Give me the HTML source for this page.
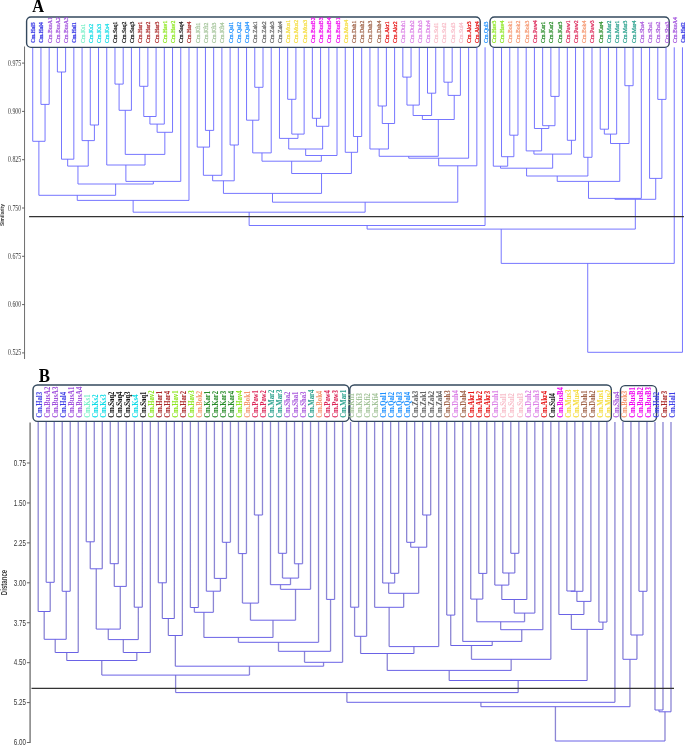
<!DOCTYPE html>
<html><head><meta charset="utf-8"><title>Dendrogram</title><style>
html,body{margin:0;padding:0;background:#fff;width:685px;height:747px;overflow:hidden}
svg{display:block;will-change:transform}
text{font-family:"Liberation Serif",serif}
</style></head><body>
<svg width="685" height="747" viewBox="0 0 685 747">
<rect width="685" height="747" fill="#fff"/>
<path d="M57.39 47.3V72M65.62 47.3V72M40.94 47.3V104.4M49.17 47.3V104.4M32.72 47.3V141.3M45.06 104.4V141.3M90.29 47.3V125M98.52 47.3V125M82.07 47.3V140.6M94.4 125V140.6M114.97 47.3V84.1M123.19 47.3V84.1M119.08 84.1V110.3M131.42 47.3V110.3M139.64 47.3V86.3M147.86 47.3V86.3M143.75 86.3V116.5M156.09 47.3V116.5M149.92 116.5V124.1M164.31 47.3V124.1M157.12 124.1V132.3M172.54 47.3V132.3M125.25 110.3V154.4M164.83 132.3V154.4M106.74 47.3V165M145.04 154.4V165M61.51 72V159.2M73.84 47.3V159.2M67.67 159.2V166.1M88.24 140.6V166.1M125.89 165V181.4M180.76 47.3V181.4M77.96 166.1V184M153.33 181.4V184M38.89 141.3V195.3M115.64 184V195.3M77.26 195.3V200.4M188.99 47.3V200.4M205.44 47.3V130.4M213.66 47.3V130.4M197.21 47.3V147.1M209.55 130.4V147.1M203.38 147.1V175.3M221.89 47.3V175.3M230.11 47.3V145M238.34 47.3V145M212.63 175.3V180.8M234.22 145V180.8M254.78 47.3V87.3M263.01 47.3V87.3M246.56 47.3V120.2M258.9 87.3V120.2M252.73 120.2V152.9M271.23 47.3V152.9M287.68 47.3V99.3M295.91 47.3V99.3M291.79 99.3V134.1M304.13 47.3V134.1M279.46 47.3V138.4M297.96 134.1V138.4M312.36 47.3V118.3M320.58 47.3V118.3M316.47 118.3V126.3M328.81 47.3V126.3M288.71 138.4V149M322.64 126.3V149M305.67 149V155.5M337.03 47.3V155.5M261.98 152.9V161.2M321.35 155.5V161.2M353.48 47.3V136.5M361.7 47.3V136.5M345.25 47.3V152.3M357.59 136.5V152.3M291.67 161.2V173.5M351.42 152.3V173.5M223.43 180.8V193.4M321.54 173.5V193.4M378.15 47.3V106M386.38 47.3V106M382.27 106V123.5M394.6 47.3V123.5M369.93 47.3V149M388.43 123.5V149M402.83 47.3V77.1M411.05 47.3V77.1M406.94 77.1V105.1M419.28 47.3V105.1M427.5 47.3V93.2M435.73 47.3V93.2M413.11 105.1V115.5M431.61 93.2V115.5M443.95 47.3V82.2M452.17 47.3V82.2M448.06 82.2V95.4M460.4 47.3V95.4M422.36 115.5V119.5M454.23 95.4V119.5M379.18 149V156.3M438.3 119.5V156.3M408.74 156.3V158.2M468.62 47.3V158.2M438.68 158.2V165.8M476.85 47.3V165.8M272.49 193.4V202.2M457.76 165.8V202.2M133.13 200.4V212.2M365.13 202.2V212.2M249.13 212.2V225.5M485.07 47.3V225.5M509.75 47.3V135.2M517.97 47.3V135.2M501.52 47.3V156.7M513.86 135.2V156.7M493.3 47.3V166.2M507.69 156.7V166.2M550.87 47.3V96.4M559.09 47.3V96.4M542.65 47.3V125.7M554.98 96.4V125.7M534.42 47.3V128.5M548.81 125.7V128.5M526.2 47.3V150.9M541.62 128.5V150.9M567.32 47.3V140.3M575.54 47.3V140.3M533.91 150.9V154.1M571.43 140.3V154.1M500.49 166.2V168.2M552.67 154.1V168.2M583.77 47.3V157.3M591.99 47.3V157.3M526.58 168.2V176M587.88 157.3V176M600.22 47.3V129.2M608.44 47.3V129.2M604.33 129.2V134.1M616.67 47.3V134.1M624.89 47.3V85.7M633.12 47.3V85.7M610.5 134.1V143.5M629 85.7V143.5M557.23 176V181.4M619.75 143.5V181.4M588.49 181.4V198.4M641.34 47.3V198.4M657.79 47.3V99.4M666.01 47.3V99.4M649.57 47.3V178.4M661.9 99.4V178.4M614.92 198.4V199.3M655.73 178.4V199.3M367.1 225.5V229.1M635.32 199.3V229.1M501.21 229.1V263.4M674.24 47.3V263.4M587.73 263.4V352.3M682.46 47.3V352.3M57.39 72H65.62M40.94 104.4H49.17M32.72 141.3H45.06M90.29 125H98.52M82.07 140.6H94.4M114.97 84.1H123.19M119.08 110.3H131.42M139.64 86.3H147.86M143.75 116.5H156.09M149.92 124.1H164.31M157.12 132.3H172.54M125.25 154.4H164.83M106.74 165H145.04M61.51 159.2H73.84M67.67 166.1H88.24M125.89 181.4H180.76M77.96 184H153.33M38.89 195.3H115.64M77.26 200.4H188.99M205.44 130.4H213.66M197.21 147.1H209.55M203.38 175.3H221.89M230.11 145H238.34M212.63 180.8H234.22M254.78 87.3H263.01M246.56 120.2H258.9M252.73 152.9H271.23M287.68 99.3H295.91M291.79 134.1H304.13M279.46 138.4H297.96M312.36 118.3H320.58M316.47 126.3H328.81M288.71 149H322.64M305.67 155.5H337.03M261.98 161.2H321.35M353.48 136.5H361.7M345.25 152.3H357.59M291.67 173.5H351.42M223.43 193.4H321.54M378.15 106H386.38M382.27 123.5H394.6M369.93 149H388.43M402.83 77.1H411.05M406.94 105.1H419.28M427.5 93.2H435.73M413.11 115.5H431.61M443.95 82.2H452.17M448.06 95.4H460.4M422.36 119.5H454.23M379.18 156.3H438.3M408.74 158.2H468.62M438.68 165.8H476.85M272.49 202.2H457.76M133.13 212.2H365.13M249.13 225.5H485.07M509.75 135.2H517.97M501.52 156.7H513.86M493.3 166.2H507.69M550.87 96.4H559.09M542.65 125.7H554.98M534.42 128.5H548.81M526.2 150.9H541.62M567.32 140.3H575.54M533.91 154.1H571.43M500.49 168.2H552.67M583.77 157.3H591.99M526.58 176H587.88M600.22 129.2H608.44M604.33 134.1H616.67M624.89 85.7H633.12M610.5 143.5H629M557.23 181.4H619.75M588.49 198.4H641.34M657.79 99.4H666.01M649.57 178.4H661.9M614.92 199.3H655.73M367.1 229.1H635.32M501.21 263.4H674.24M587.73 352.3H682.46" stroke="#6666ff" stroke-width="0.9" fill="none"/>
<path d="M24.55 46.5V359" stroke="#6e6e6e" stroke-width="1" fill="none"/>
<text transform="translate(21.2 65.6) scale(0.815 1)" font-size="7.2" text-anchor="end" fill="#333">0.975</text>
<text transform="translate(21.2 113.9) scale(0.815 1)" font-size="7.2" text-anchor="end" fill="#333">0.900</text>
<text transform="translate(21.2 162.2) scale(0.815 1)" font-size="7.2" text-anchor="end" fill="#333">0.825</text>
<text transform="translate(21.2 210.5) scale(0.815 1)" font-size="7.2" text-anchor="end" fill="#333">0.750</text>
<text transform="translate(21.2 258.8) scale(0.815 1)" font-size="7.2" text-anchor="end" fill="#333">0.675</text>
<text transform="translate(21.2 307.1) scale(0.815 1)" font-size="7.2" text-anchor="end" fill="#333">0.600</text>
<text transform="translate(21.2 355.4) scale(0.815 1)" font-size="7.2" text-anchor="end" fill="#333">0.525</text>
<path d="M22 63.1H24.5M22 111.4H24.5M22 159.7H24.5M22 208H24.5M22 256.3H24.5M22 304.6H24.5M22 352.9H24.5" stroke="#555" stroke-width="0.9" fill="none"/>
<text transform="translate(4.4 215) rotate(-90) scale(0.79 1)" font-size="6.2" font-weight="bold" text-anchor="middle" fill="#3a3a3a" style="font-family:'Liberation Sans',sans-serif">Similarity</text>
<rect x="26.6" y="16.95" width="453.6" height="30.4" rx="4.4" fill="none" stroke="#34495e" stroke-width="1.4"/>
<rect x="490" y="16.95" width="179.2" height="30.4" rx="4.4" fill="none" stroke="#34495e" stroke-width="1.4"/>
<text transform="translate(32.3 12.2) scale(0.89 1)" font-size="18.3" font-weight="bold" fill="#000">A</text>
<text transform="translate(35.22 42.9) rotate(-90) scale(0.9 1)" font-size="5.9" font-weight="bold" fill="#3c3ce6" stroke="#3c3ce6" stroke-width="0.22">Cm.Hal5</text>
<text transform="translate(43.44 42.9) rotate(-90) scale(0.9 1)" font-size="5.9" font-weight="bold" fill="#3c3ce6" stroke="#3c3ce6" stroke-width="0.22">Cm.Hal4</text>
<text transform="translate(51.67 42.9) rotate(-90) scale(0.98 1)" font-size="5.9" font-weight="normal" fill="#a050dc" stroke="#a050dc" stroke-width="0.22">Cm.BusA1</text>
<text transform="translate(59.89 42.9) rotate(-90) scale(0.98 1)" font-size="5.9" font-weight="normal" fill="#a050dc" stroke="#a050dc" stroke-width="0.22">Cm.BusA2</text>
<text transform="translate(68.12 42.9) rotate(-90) scale(0.98 1)" font-size="5.9" font-weight="normal" fill="#a050dc" stroke="#a050dc" stroke-width="0.22">Cm.BusA3</text>
<text transform="translate(76.34 42.9) rotate(-90) scale(0.9 1)" font-size="5.9" font-weight="bold" fill="#3c3ce6" stroke="#3c3ce6" stroke-width="0.22">Cm.Hal1</text>
<text transform="translate(84.57 42.9) rotate(-90) scale(0.98 1)" font-size="5.9" font-weight="normal" fill="#78f0c8" stroke="#78f0c8" stroke-width="0.22">Cm.Ks1</text>
<text transform="translate(92.79 42.9) rotate(-90) scale(0.98 1)" font-size="5.9" font-weight="normal" fill="#10dce6" stroke="#10dce6" stroke-width="0.22">Cm.Ks2</text>
<text transform="translate(101.02 42.9) rotate(-90) scale(0.98 1)" font-size="5.9" font-weight="normal" fill="#10dce6" stroke="#10dce6" stroke-width="0.22">Cm.Ks3</text>
<text transform="translate(109.24 42.9) rotate(-90) scale(0.98 1)" font-size="5.9" font-weight="normal" fill="#10dce6" stroke="#10dce6" stroke-width="0.22">Cm.Ks4</text>
<text transform="translate(117.47 42.9) rotate(-90) scale(0.98 1)" font-size="5.9" font-weight="normal" fill="#141414" stroke="#141414" stroke-width="0.22">Cm.Saq1</text>
<text transform="translate(125.69 42.9) rotate(-90) scale(0.98 1)" font-size="5.9" font-weight="normal" fill="#141414" stroke="#141414" stroke-width="0.22">Cm.Saq2</text>
<text transform="translate(133.92 42.9) rotate(-90) scale(0.98 1)" font-size="5.9" font-weight="normal" fill="#141414" stroke="#141414" stroke-width="0.22">Cm.Saq3</text>
<text transform="translate(142.14 42.9) rotate(-90) scale(0.98 1)" font-size="5.9" font-weight="normal" fill="#aa2828" stroke="#aa2828" stroke-width="0.22">Cm.Har1</text>
<text transform="translate(150.36 42.9) rotate(-90) scale(0.98 1)" font-size="5.9" font-weight="normal" fill="#aa2828" stroke="#aa2828" stroke-width="0.22">Cm.Har2</text>
<text transform="translate(158.59 42.9) rotate(-90) scale(0.98 1)" font-size="5.9" font-weight="normal" fill="#aa2828" stroke="#aa2828" stroke-width="0.22">Cm.Har3</text>
<text transform="translate(166.81 42.9) rotate(-90) scale(0.98 1)" font-size="5.9" font-weight="normal" fill="#8ce61e" stroke="#8ce61e" stroke-width="0.22">Cm.Hav1</text>
<text transform="translate(175.04 42.9) rotate(-90) scale(0.98 1)" font-size="5.9" font-weight="normal" fill="#8ce61e" stroke="#8ce61e" stroke-width="0.22">Cm.Hav2</text>
<text transform="translate(183.26 42.9) rotate(-90) scale(0.98 1)" font-size="5.9" font-weight="normal" fill="#141414" stroke="#141414" stroke-width="0.22">Cm.Saq4</text>
<text transform="translate(191.49 42.9) rotate(-90) scale(0.98 1)" font-size="5.9" font-weight="normal" fill="#aa2828" stroke="#aa2828" stroke-width="0.22">Cm.Har4</text>
<text transform="translate(199.71 42.9) rotate(-90) scale(0.98 1)" font-size="5.9" font-weight="normal" fill="#a4c49a" stroke="#a4c49a" stroke-width="0.22">Cm.Kfi1</text>
<text transform="translate(207.94 42.9) rotate(-90) scale(0.98 1)" font-size="5.9" font-weight="normal" fill="#a4c49a" stroke="#a4c49a" stroke-width="0.22">Cm.Kfi2</text>
<text transform="translate(216.16 42.9) rotate(-90) scale(0.98 1)" font-size="5.9" font-weight="normal" fill="#a4c49a" stroke="#a4c49a" stroke-width="0.22">Cm.Kfi3</text>
<text transform="translate(224.39 42.9) rotate(-90) scale(0.98 1)" font-size="5.9" font-weight="normal" fill="#a4c49a" stroke="#a4c49a" stroke-width="0.22">Cm.Kfi4</text>
<text transform="translate(232.61 42.9) rotate(-90) scale(0.98 1)" font-size="5.9" font-weight="normal" fill="#1e90ff" stroke="#1e90ff" stroke-width="0.22">Cm.Qal1</text>
<text transform="translate(240.84 42.9) rotate(-90) scale(0.98 1)" font-size="5.9" font-weight="normal" fill="#1e90ff" stroke="#1e90ff" stroke-width="0.22">Cm.Qal2</text>
<text transform="translate(249.06 42.9) rotate(-90) scale(0.98 1)" font-size="5.9" font-weight="normal" fill="#1e90ff" stroke="#1e90ff" stroke-width="0.22">Cm.Qal4</text>
<text transform="translate(257.28 42.9) rotate(-90) scale(0.98 1)" font-size="5.9" font-weight="normal" fill="#646464" stroke="#646464" stroke-width="0.22">Cm.Zak1</text>
<text transform="translate(265.51 42.9) rotate(-90) scale(0.98 1)" font-size="5.9" font-weight="normal" fill="#646464" stroke="#646464" stroke-width="0.22">Cm.Zak2</text>
<text transform="translate(273.73 42.9) rotate(-90) scale(0.98 1)" font-size="5.9" font-weight="normal" fill="#646464" stroke="#646464" stroke-width="0.22">Cm.Zak3</text>
<text transform="translate(281.96 42.9) rotate(-90) scale(0.98 1)" font-size="5.9" font-weight="normal" fill="#646464" stroke="#646464" stroke-width="0.22">Cm.Zak4</text>
<text transform="translate(290.18 42.9) rotate(-90) scale(0.98 1)" font-size="5.9" font-weight="normal" fill="#f5dc3c" stroke="#f5dc3c" stroke-width="0.22">Cm.Mus1</text>
<text transform="translate(298.41 42.9) rotate(-90) scale(0.98 1)" font-size="5.9" font-weight="normal" fill="#f5dc3c" stroke="#f5dc3c" stroke-width="0.22">Cm.Mus2</text>
<text transform="translate(306.63 42.9) rotate(-90) scale(0.98 1)" font-size="5.9" font-weight="normal" fill="#f5dc3c" stroke="#f5dc3c" stroke-width="0.22">Cm.Mus3</text>
<text transform="translate(314.86 42.9) rotate(-90) scale(0.98 1)" font-size="5.9" font-weight="normal" fill="#f000f0" stroke="#f000f0" stroke-width="0.22">Cm.BusB2</text>
<text transform="translate(323.08 42.9) rotate(-90) scale(0.98 1)" font-size="5.9" font-weight="normal" fill="#f000f0" stroke="#f000f0" stroke-width="0.22">Cm.BusB3</text>
<text transform="translate(331.31 42.9) rotate(-90) scale(0.98 1)" font-size="5.9" font-weight="normal" fill="#f000f0" stroke="#f000f0" stroke-width="0.22">Cm.BusB4</text>
<text transform="translate(339.53 42.9) rotate(-90) scale(0.98 1)" font-size="5.9" font-weight="normal" fill="#f000f0" stroke="#f000f0" stroke-width="0.22">Cm.BusB1</text>
<text transform="translate(347.75 42.9) rotate(-90) scale(0.98 1)" font-size="5.9" font-weight="normal" fill="#f5dc3c" stroke="#f5dc3c" stroke-width="0.22">Cm.Mus4</text>
<text transform="translate(355.98 42.9) rotate(-90) scale(0.98 1)" font-size="5.9" font-weight="normal" fill="#a0644a" stroke="#a0644a" stroke-width="0.22">Cm.Dah1</text>
<text transform="translate(364.2 42.9) rotate(-90) scale(0.98 1)" font-size="5.9" font-weight="normal" fill="#a0644a" stroke="#a0644a" stroke-width="0.22">Cm.Dah2</text>
<text transform="translate(372.43 42.9) rotate(-90) scale(0.98 1)" font-size="5.9" font-weight="normal" fill="#a0644a" stroke="#a0644a" stroke-width="0.22">Cm.Dah3</text>
<text transform="translate(380.65 42.9) rotate(-90) scale(0.98 1)" font-size="5.9" font-weight="normal" fill="#a0644a" stroke="#a0644a" stroke-width="0.22">Cm.Dah4</text>
<text transform="translate(388.88 42.9) rotate(-90) scale(0.98 1)" font-size="5.9" font-weight="normal" fill="#e61414" stroke="#e61414" stroke-width="0.22">Cm.Akr1</text>
<text transform="translate(397.1 42.9) rotate(-90) scale(0.98 1)" font-size="5.9" font-weight="normal" fill="#e61414" stroke="#e61414" stroke-width="0.22">Cm.Akr2</text>
<text transform="translate(405.33 42.9) rotate(-90) scale(0.98 1)" font-size="5.9" font-weight="normal" fill="#dc82e6" stroke="#dc82e6" stroke-width="0.22">Cm.Duh1</text>
<text transform="translate(413.55 42.9) rotate(-90) scale(0.98 1)" font-size="5.9" font-weight="normal" fill="#dc82e6" stroke="#dc82e6" stroke-width="0.22">Cm.Duh2</text>
<text transform="translate(421.78 42.9) rotate(-90) scale(0.98 1)" font-size="5.9" font-weight="normal" fill="#dc82e6" stroke="#dc82e6" stroke-width="0.22">Cm.Duh3</text>
<text transform="translate(430 42.9) rotate(-90) scale(0.98 1)" font-size="5.9" font-weight="normal" fill="#dc82e6" stroke="#dc82e6" stroke-width="0.22">Cm.Duh4</text>
<text transform="translate(438.23 42.9) rotate(-90) scale(0.98 1)" font-size="5.9" font-weight="normal" fill="#f8bcc8" stroke="#f8bcc8" stroke-width="0.22">Cm.Sul1</text>
<text transform="translate(446.45 42.9) rotate(-90) scale(0.98 1)" font-size="5.9" font-weight="normal" fill="#f8bcc8" stroke="#f8bcc8" stroke-width="0.22">Cm.Sul2</text>
<text transform="translate(454.67 42.9) rotate(-90) scale(0.98 1)" font-size="5.9" font-weight="normal" fill="#f8bcc8" stroke="#f8bcc8" stroke-width="0.22">Cm.Sul3</text>
<text transform="translate(462.9 42.9) rotate(-90) scale(0.98 1)" font-size="5.9" font-weight="normal" fill="#f8bcc8" stroke="#f8bcc8" stroke-width="0.22">Cm.Sul4</text>
<text transform="translate(471.12 42.9) rotate(-90) scale(0.98 1)" font-size="5.9" font-weight="normal" fill="#e61414" stroke="#e61414" stroke-width="0.22">Cm.Akr3</text>
<text transform="translate(479.35 42.9) rotate(-90) scale(0.98 1)" font-size="5.9" font-weight="normal" fill="#e61414" stroke="#e61414" stroke-width="0.22">Cm.Akr4</text>
<text transform="translate(487.57 42.9) rotate(-90) scale(0.98 1)" font-size="5.9" font-weight="normal" fill="#1e90ff" stroke="#1e90ff" stroke-width="0.22">Cm.Qul3</text>
<text transform="translate(495.8 42.9) rotate(-90) scale(0.98 1)" font-size="5.9" font-weight="normal" fill="#8ce61e" stroke="#8ce61e" stroke-width="0.22">Cm.Hav3</text>
<text transform="translate(504.02 42.9) rotate(-90) scale(0.98 1)" font-size="5.9" font-weight="normal" fill="#8ce61e" stroke="#8ce61e" stroke-width="0.22">Cm.Hav4</text>
<text transform="translate(512.25 42.9) rotate(-90) scale(0.98 1)" font-size="5.9" font-weight="normal" fill="#f5966e" stroke="#f5966e" stroke-width="0.22">Cm.Bok1</text>
<text transform="translate(520.47 42.9) rotate(-90) scale(0.98 1)" font-size="5.9" font-weight="normal" fill="#f5966e" stroke="#f5966e" stroke-width="0.22">Cm.Bok2</text>
<text transform="translate(528.7 42.9) rotate(-90) scale(0.98 1)" font-size="5.9" font-weight="normal" fill="#f5966e" stroke="#f5966e" stroke-width="0.22">Cm.Bok3</text>
<text transform="translate(536.92 42.9) rotate(-90) scale(0.98 1)" font-size="5.9" font-weight="normal" fill="#dc285a" stroke="#dc285a" stroke-width="0.22">Cm.Paw4</text>
<text transform="translate(545.15 42.9) rotate(-90) scale(0.98 1)" font-size="5.9" font-weight="normal" fill="#288c28" stroke="#288c28" stroke-width="0.22">Cm.Kar1</text>
<text transform="translate(553.37 42.9) rotate(-90) scale(0.98 1)" font-size="5.9" font-weight="normal" fill="#288c28" stroke="#288c28" stroke-width="0.22">Cm.Kar2</text>
<text transform="translate(561.59 42.9) rotate(-90) scale(0.98 1)" font-size="5.9" font-weight="normal" fill="#288c28" stroke="#288c28" stroke-width="0.22">Cm.Kar3</text>
<text transform="translate(569.82 42.9) rotate(-90) scale(0.98 1)" font-size="5.9" font-weight="normal" fill="#dc285a" stroke="#dc285a" stroke-width="0.22">Cm.Paw1</text>
<text transform="translate(578.04 42.9) rotate(-90) scale(0.98 1)" font-size="5.9" font-weight="normal" fill="#dc285a" stroke="#dc285a" stroke-width="0.22">Cm.Paw2</text>
<text transform="translate(586.27 42.9) rotate(-90) scale(0.98 1)" font-size="5.9" font-weight="normal" fill="#f5966e" stroke="#f5966e" stroke-width="0.22">Cm.Bok4</text>
<text transform="translate(594.49 42.9) rotate(-90) scale(0.98 1)" font-size="5.9" font-weight="normal" fill="#dc285a" stroke="#dc285a" stroke-width="0.22">Cm.Paw3</text>
<text transform="translate(602.72 42.9) rotate(-90) scale(0.98 1)" font-size="5.9" font-weight="normal" fill="#288c28" stroke="#288c28" stroke-width="0.22">Cm.Kar4</text>
<text transform="translate(610.94 42.9) rotate(-90) scale(0.98 1)" font-size="5.9" font-weight="normal" fill="#28a08c" stroke="#28a08c" stroke-width="0.22">Cm.Mar2</text>
<text transform="translate(619.17 42.9) rotate(-90) scale(0.98 1)" font-size="5.9" font-weight="normal" fill="#28a08c" stroke="#28a08c" stroke-width="0.22">Cm.Mar1</text>
<text transform="translate(627.39 42.9) rotate(-90) scale(0.98 1)" font-size="5.9" font-weight="normal" fill="#28a08c" stroke="#28a08c" stroke-width="0.22">Cm.Mar3</text>
<text transform="translate(635.62 42.9) rotate(-90) scale(0.98 1)" font-size="5.9" font-weight="normal" fill="#28a08c" stroke="#28a08c" stroke-width="0.22">Cm.Mar4</text>
<text transform="translate(643.84 42.9) rotate(-90) scale(0.98 1)" font-size="5.9" font-weight="normal" fill="#aa5adc" stroke="#aa5adc" stroke-width="0.22">Cm.Sha4</text>
<text transform="translate(652.07 42.9) rotate(-90) scale(0.98 1)" font-size="5.9" font-weight="normal" fill="#aa5adc" stroke="#aa5adc" stroke-width="0.22">Cm.Sha1</text>
<text transform="translate(660.29 42.9) rotate(-90) scale(0.98 1)" font-size="5.9" font-weight="normal" fill="#aa5adc" stroke="#aa5adc" stroke-width="0.22">Cm.Sha2</text>
<text transform="translate(668.51 42.9) rotate(-90) scale(0.98 1)" font-size="5.9" font-weight="normal" fill="#aa5adc" stroke="#aa5adc" stroke-width="0.22">Cm.Sha3</text>
<text transform="translate(676.74 42.9) rotate(-90) scale(0.98 1)" font-size="5.9" font-weight="normal" fill="#a050dc" stroke="#a050dc" stroke-width="0.22">Cm.BusA4</text>
<text transform="translate(684.96 42.9) rotate(-90) scale(0.9 1)" font-size="5.9" font-weight="bold" fill="#3c3ce6" stroke="#3c3ce6" stroke-width="0.22">Cm.Hal2</text>
<path d="M29.1 216.5H683.9" stroke="#333" stroke-width="1.25"/>
<path d="M46.2 422V582.3M54.21 422V582.3M62.22 422V591.3M70.23 422V591.3M86.25 422V541.8M94.26 422V541.8M90.26 541.8V568.8M102.27 422V568.8M110.28 422V563.7M118.29 422V563.7M114.29 563.7V586.4M126.3 422V586.4M38.19 422V611.5M50.21 582.3V611.5M44.2 611.5V639.3M66.23 591.3V639.3M55.21 639.3V652.5M78.24 422V652.5M96.26 568.8V629.1M120.29 586.4V629.1M134.31 422V607.2M142.32 422V607.2M108.28 629.1V639.6M138.32 607.2V639.6M123.3 639.6V652.5M150.33 422V652.5M66.73 652.5V660.5M136.82 652.5V660.5M158.34 422V582.8M166.35 422V582.8M162.35 582.8V618.5M174.36 422V618.5M168.36 618.5V635.5M182.37 422V635.5M190.38 422V607.5M198.39 422V607.5M222.42 422V542.3M230.43 422V542.3M214.41 422V578.4M226.43 542.3V578.4M206.4 422V591.2M220.42 578.4V591.2M194.39 607.5V612.3M213.41 591.2V612.3M238.44 422V553.6M246.46 422V553.6M254.47 422V515M262.48 422V515M242.45 553.6V603.1M258.47 515V603.1M278.5 422V553.3M286.51 422V553.3M294.52 422V563.8M302.53 422V563.8M282.5 553.3V578.1M298.52 563.8V578.1M270.49 422V584.7M290.51 578.1V584.7M280.5 584.7V589.3M310.54 422V589.3M250.46 603.1V620.2M295.52 589.3V620.2M203.9 612.3V637.4M272.99 620.2V637.4M238.44 637.4V642.3M318.55 422V642.3M326.56 422V599.4M334.57 422V599.4M278.5 642.3V651.3M330.56 599.4V651.3M304.53 651.3V662.3M342.58 422V662.3M175.36 635.5V666.2M323.55 662.3V666.2M101.77 660.5V675.1M249.46 666.2V675.1M350.59 422V607.2M358.6 422V607.2M354.59 607.2V636.3M366.61 422V636.3M390.64 422V573.3M398.65 422V573.3M382.63 422V583M394.64 573.3V583M406.66 422V542.3M414.67 422V542.3M422.68 422V515M430.69 422V515M410.66 542.3V547.2M426.68 515V547.2M388.64 583V593.3M418.67 547.2V593.3M374.62 422V607.3M403.66 593.3V607.3M389.14 607.3V646.6M438.7 422V646.6M360.6 636.3V653.5M413.92 646.6V653.5M446.71 422V615.1M454.72 422V615.1M478.75 422V573.4M486.76 422V573.4M470.74 422V599.1M482.76 573.4V599.1M510.79 422V553.3M518.8 422V553.3M502.78 422V573M514.8 553.3V573M494.77 422V585.1M508.79 573V585.1M501.78 585.1V599.5M526.81 422V599.5M514.3 599.5V613.1M534.82 422V613.1M476.75 599.1V621.8M524.56 613.1V621.8M500.65 621.8V629.7M542.83 422V629.7M462.73 422V641.4M521.74 629.7V641.4M450.72 615.1V645.5M492.24 641.4V645.5M471.48 645.5V659.3M550.84 422V659.3M387.26 653.5V670.4M511.16 659.3V670.4M566.86 422V591M574.87 422V591M570.87 591V591.3M582.88 422V591.3M576.88 591.3V601.4M590.89 422V601.4M558.85 422V614.5M583.88 601.4V614.5M598.9 422V622.1M606.91 422V622.1M571.37 614.5V629.4M602.91 622.1V629.4M449.21 670.4V680.5M587.14 629.4V680.5M175.61 675.1V692.6M518.17 680.5V692.6M346.89 692.6V702.3M614.92 422V702.3M638.95 422V591.3M646.97 422V591.3M630.94 422V635M642.96 591.3V635M622.93 422V659.3M636.95 635V659.3M480.91 702.3V706.7M629.94 659.3V706.7M654.98 422V710M662.99 422V710M658.98 710V711.8M671 422V711.8M555.43 706.7V741M664.99 711.8V741" stroke="#8c86d4" stroke-width="1.3" fill="none"/>
<path d="M46.2 582.3H54.21M62.22 591.3H70.23M86.25 541.8H94.26M90.26 568.8H102.27M110.28 563.7H118.29M114.29 586.4H126.3M38.19 611.5H50.21M44.2 639.3H66.23M55.21 652.5H78.24M96.26 629.1H120.29M134.31 607.2H142.32M108.28 639.6H138.32M123.3 652.5H150.33M66.73 660.5H136.82M158.34 582.8H166.35M162.35 618.5H174.36M168.36 635.5H182.37M190.38 607.5H198.39M222.42 542.3H230.43M214.41 578.4H226.43M206.4 591.2H220.42M194.39 612.3H213.41M238.44 553.6H246.46M254.47 515H262.48M242.45 603.1H258.47M278.5 553.3H286.51M294.52 563.8H302.53M282.5 578.1H298.52M270.49 584.7H290.51M280.5 589.3H310.54M250.46 620.2H295.52M203.9 637.4H272.99M238.44 642.3H318.55M326.56 599.4H334.57M278.5 651.3H330.56M304.53 662.3H342.58M175.36 666.2H323.55M101.77 675.1H249.46M350.59 607.2H358.6M354.59 636.3H366.61M390.64 573.3H398.65M382.63 583H394.64M406.66 542.3H414.67M422.68 515H430.69M410.66 547.2H426.68M388.64 593.3H418.67M374.62 607.3H403.66M389.14 646.6H438.7M360.6 653.5H413.92M446.71 615.1H454.72M478.75 573.4H486.76M470.74 599.1H482.76M510.79 553.3H518.8M502.78 573H514.8M494.77 585.1H508.79M501.78 599.5H526.81M514.3 613.1H534.82M476.75 621.8H524.56M500.65 629.7H542.83M462.73 641.4H521.74M450.72 645.5H492.24M471.48 659.3H550.84M387.26 670.4H511.16M566.86 591H574.87M570.87 591.3H582.88M576.88 601.4H590.89M558.85 614.5H583.88M598.9 622.1H606.91M571.37 629.4H602.91M449.21 680.5H587.14M175.61 692.6H518.17M346.89 702.3H614.92M638.95 591.3H646.97M630.94 635H642.96M622.93 659.3H636.95M480.91 706.7H629.94M654.98 710H662.99M658.98 711.8H671M555.43 741H664.99" stroke="#6a62e6" stroke-width="1.0" fill="none"/>
<path d="M30.1 422.6V742.9" stroke="#808080" stroke-width="1.5" fill="none"/>
<text transform="translate(25.9 465.8) scale(0.76 1)" font-size="8.2" text-anchor="end" fill="#333" style="font-family:'Liberation Sans',sans-serif">0.75</text>
<text transform="translate(25.9 505.73) scale(0.76 1)" font-size="8.2" text-anchor="end" fill="#333" style="font-family:'Liberation Sans',sans-serif">1.50</text>
<text transform="translate(25.9 545.66) scale(0.76 1)" font-size="8.2" text-anchor="end" fill="#333" style="font-family:'Liberation Sans',sans-serif">2.25</text>
<text transform="translate(25.9 585.59) scale(0.76 1)" font-size="8.2" text-anchor="end" fill="#333" style="font-family:'Liberation Sans',sans-serif">3.00</text>
<text transform="translate(25.9 625.52) scale(0.76 1)" font-size="8.2" text-anchor="end" fill="#333" style="font-family:'Liberation Sans',sans-serif">3.75</text>
<text transform="translate(25.9 665.45) scale(0.76 1)" font-size="8.2" text-anchor="end" fill="#333" style="font-family:'Liberation Sans',sans-serif">4.50</text>
<text transform="translate(25.9 705.38) scale(0.76 1)" font-size="8.2" text-anchor="end" fill="#333" style="font-family:'Liberation Sans',sans-serif">5.25</text>
<text transform="translate(25.9 745.31) scale(0.76 1)" font-size="8.2" text-anchor="end" fill="#333" style="font-family:'Liberation Sans',sans-serif">6.00</text>
<path d="M26.9 463H29.9M26.9 502.93H29.9M26.9 542.86H29.9M26.9 582.79H29.9M26.9 622.72H29.9M26.9 662.65H29.9M26.9 702.58H29.9M26.9 742.51H29.9" stroke="#555" stroke-width="0.9" fill="none"/>
<text transform="translate(6.7 582.5) rotate(-90) scale(0.74 1)" font-size="8.2" font-weight="bold" text-anchor="middle" fill="#3a3a3a" style="font-family:'Liberation Sans',sans-serif">Distance</text>
<rect x="33" y="385" width="315.9" height="36.4" rx="4.5" fill="none" stroke="#34495e" stroke-width="1.4"/>
<rect x="349.8" y="385" width="261.5" height="36.4" rx="4.5" fill="none" stroke="#34495e" stroke-width="1.4"/>
<rect x="620.5" y="385.6" width="36" height="35.8" rx="4.5" fill="none" stroke="#34495e" stroke-width="1.4"/>
<text transform="translate(38.7 381.8) scale(0.9 1)" font-size="18.7" font-weight="bold" fill="#000">B</text>
<text transform="translate(41.89 417.7) rotate(-90) scale(0.88 1)" font-size="7.6" font-weight="bold" fill="#3c3ce6" stroke="#3c3ce6" stroke-width="0.05">Cm.Hal3</text>
<text transform="translate(49.9 417.7) rotate(-90) scale(0.88 1)" font-size="7.6" font-weight="bold" fill="#a050dc" stroke="#a050dc" stroke-width="0.05">Cm.BusA2</text>
<text transform="translate(57.91 417.7) rotate(-90) scale(0.88 1)" font-size="7.6" font-weight="bold" fill="#a050dc" stroke="#a050dc" stroke-width="0.05">Cm.BusA3</text>
<text transform="translate(65.92 417.7) rotate(-90) scale(0.88 1)" font-size="7.6" font-weight="bold" fill="#3c3ce6" stroke="#3c3ce6" stroke-width="0.05">Cm.Hal4</text>
<text transform="translate(73.93 417.7) rotate(-90) scale(0.88 1)" font-size="7.6" font-weight="bold" fill="#a050dc" stroke="#a050dc" stroke-width="0.05">Cm.BusA1</text>
<text transform="translate(81.94 417.7) rotate(-90) scale(0.88 1)" font-size="7.6" font-weight="bold" fill="#a050dc" stroke="#a050dc" stroke-width="0.05">Cm.BusA4</text>
<text transform="translate(89.95 417.7) rotate(-90) scale(0.88 1)" font-size="7.6" font-weight="bold" fill="#78f0c8" stroke="#78f0c8" stroke-width="0.05">Cm.Ks1</text>
<text transform="translate(97.96 417.7) rotate(-90) scale(0.88 1)" font-size="7.6" font-weight="bold" fill="#10dce6" stroke="#10dce6" stroke-width="0.05">Cm.Ks2</text>
<text transform="translate(105.97 417.7) rotate(-90) scale(0.88 1)" font-size="7.6" font-weight="bold" fill="#10dce6" stroke="#10dce6" stroke-width="0.05">Cm.Ks3</text>
<text transform="translate(113.98 417.7) rotate(-90) scale(0.88 1)" font-size="7.6" font-weight="bold" fill="#141414" stroke="#141414" stroke-width="0.05">Cm.Saq2</text>
<text transform="translate(121.99 417.7) rotate(-90) scale(0.88 1)" font-size="7.6" font-weight="bold" fill="#141414" stroke="#141414" stroke-width="0.05">Cm.Saq4</text>
<text transform="translate(130 417.7) rotate(-90) scale(0.88 1)" font-size="7.6" font-weight="bold" fill="#141414" stroke="#141414" stroke-width="0.05">Cm.Saq3</text>
<text transform="translate(138.01 417.7) rotate(-90) scale(0.88 1)" font-size="7.6" font-weight="bold" fill="#10dce6" stroke="#10dce6" stroke-width="0.05">Cm.Ks4</text>
<text transform="translate(146.02 417.7) rotate(-90) scale(0.88 1)" font-size="7.6" font-weight="bold" fill="#141414" stroke="#141414" stroke-width="0.05">Cm.Saq1</text>
<text transform="translate(154.03 417.7) rotate(-90) scale(0.88 1)" font-size="7.6" font-weight="bold" fill="#8ce61e" stroke="#8ce61e" stroke-width="0.05">Cm.Hav2</text>
<text transform="translate(162.04 417.7) rotate(-90) scale(0.88 1)" font-size="7.6" font-weight="bold" fill="#aa2828" stroke="#aa2828" stroke-width="0.05">Cm.Har1</text>
<text transform="translate(170.05 417.7) rotate(-90) scale(0.88 1)" font-size="7.6" font-weight="bold" fill="#aa2828" stroke="#aa2828" stroke-width="0.05">Cm.Har4</text>
<text transform="translate(178.06 417.7) rotate(-90) scale(0.88 1)" font-size="7.6" font-weight="bold" fill="#8ce61e" stroke="#8ce61e" stroke-width="0.05">Cm.Hav1</text>
<text transform="translate(186.07 417.7) rotate(-90) scale(0.88 1)" font-size="7.6" font-weight="bold" fill="#aa2828" stroke="#aa2828" stroke-width="0.05">Cm.Har2</text>
<text transform="translate(194.08 417.7) rotate(-90) scale(0.88 1)" font-size="7.6" font-weight="bold" fill="#8ce61e" stroke="#8ce61e" stroke-width="0.05">Cm.Hav3</text>
<text transform="translate(202.09 417.7) rotate(-90) scale(0.88 1)" font-size="7.6" font-weight="bold" fill="#f5966e" stroke="#f5966e" stroke-width="0.05">Cm.Bok2</text>
<text transform="translate(210.1 417.7) rotate(-90) scale(0.88 1)" font-size="7.6" font-weight="bold" fill="#288c28" stroke="#288c28" stroke-width="0.05">Cm.Kar1</text>
<text transform="translate(218.11 417.7) rotate(-90) scale(0.88 1)" font-size="7.6" font-weight="bold" fill="#288c28" stroke="#288c28" stroke-width="0.05">Cm.Kar2</text>
<text transform="translate(226.12 417.7) rotate(-90) scale(0.88 1)" font-size="7.6" font-weight="bold" fill="#288c28" stroke="#288c28" stroke-width="0.05">Cm.Kar3</text>
<text transform="translate(234.13 417.7) rotate(-90) scale(0.88 1)" font-size="7.6" font-weight="bold" fill="#288c28" stroke="#288c28" stroke-width="0.05">Cm.Kar4</text>
<text transform="translate(242.14 417.7) rotate(-90) scale(0.88 1)" font-size="7.6" font-weight="bold" fill="#8ce61e" stroke="#8ce61e" stroke-width="0.05">Cm.Hav4</text>
<text transform="translate(250.16 417.7) rotate(-90) scale(0.88 1)" font-size="7.6" font-weight="bold" fill="#f5966e" stroke="#f5966e" stroke-width="0.05">Cm.Bok1</text>
<text transform="translate(258.17 417.7) rotate(-90) scale(0.88 1)" font-size="7.6" font-weight="bold" fill="#dc285a" stroke="#dc285a" stroke-width="0.05">Cm.Paw1</text>
<text transform="translate(266.18 417.7) rotate(-90) scale(0.88 1)" font-size="7.6" font-weight="bold" fill="#dc285a" stroke="#dc285a" stroke-width="0.05">Cm.Paw2</text>
<text transform="translate(274.19 417.7) rotate(-90) scale(0.88 1)" font-size="7.6" font-weight="bold" fill="#28a08c" stroke="#28a08c" stroke-width="0.05">Cm.Mar2</text>
<text transform="translate(282.2 417.7) rotate(-90) scale(0.88 1)" font-size="7.6" font-weight="bold" fill="#28a08c" stroke="#28a08c" stroke-width="0.05">Cm.Mar3</text>
<text transform="translate(290.21 417.7) rotate(-90) scale(0.88 1)" font-size="7.6" font-weight="bold" fill="#aa5adc" stroke="#aa5adc" stroke-width="0.05">Cm.Sha2</text>
<text transform="translate(298.22 417.7) rotate(-90) scale(0.88 1)" font-size="7.6" font-weight="bold" fill="#aa5adc" stroke="#aa5adc" stroke-width="0.05">Cm.Sha1</text>
<text transform="translate(306.23 417.7) rotate(-90) scale(0.88 1)" font-size="7.6" font-weight="bold" fill="#aa5adc" stroke="#aa5adc" stroke-width="0.05">Cm.Sha3</text>
<text transform="translate(314.24 417.7) rotate(-90) scale(0.88 1)" font-size="7.6" font-weight="bold" fill="#28a08c" stroke="#28a08c" stroke-width="0.05">Cm.Mar4</text>
<text transform="translate(322.25 417.7) rotate(-90) scale(0.88 1)" font-size="7.6" font-weight="bold" fill="#f5966e" stroke="#f5966e" stroke-width="0.05">Cm.Bok4</text>
<text transform="translate(330.26 417.7) rotate(-90) scale(0.88 1)" font-size="7.6" font-weight="bold" fill="#dc285a" stroke="#dc285a" stroke-width="0.05">Cm.Paw4</text>
<text transform="translate(338.27 417.7) rotate(-90) scale(0.88 1)" font-size="7.6" font-weight="bold" fill="#dc285a" stroke="#dc285a" stroke-width="0.05">Cm.Paw3</text>
<text transform="translate(346.28 417.7) rotate(-90) scale(0.88 1)" font-size="7.6" font-weight="bold" fill="#28a08c" stroke="#28a08c" stroke-width="0.05">Cm.Mar1</text>
<text transform="translate(354.29 417.7) rotate(-90) scale(0.88 1)" font-size="7.6" font-weight="bold" fill="#a4c49a" stroke="#a4c49a" stroke-width="0.05">Cm.Kfi1</text>
<text transform="translate(362.3 417.7) rotate(-90) scale(0.88 1)" font-size="7.6" font-weight="bold" fill="#a4c49a" stroke="#a4c49a" stroke-width="0.05">Cm.Kfi3</text>
<text transform="translate(370.31 417.7) rotate(-90) scale(0.88 1)" font-size="7.6" font-weight="bold" fill="#a4c49a" stroke="#a4c49a" stroke-width="0.05">Cm.Kfi2</text>
<text transform="translate(378.32 417.7) rotate(-90) scale(0.88 1)" font-size="7.6" font-weight="bold" fill="#a4c49a" stroke="#a4c49a" stroke-width="0.05">Cm.Kfi4</text>
<text transform="translate(386.33 417.7) rotate(-90) scale(0.88 1)" font-size="7.6" font-weight="bold" fill="#1e90ff" stroke="#1e90ff" stroke-width="0.05">Cm.Qal1</text>
<text transform="translate(394.34 417.7) rotate(-90) scale(0.88 1)" font-size="7.6" font-weight="bold" fill="#1e90ff" stroke="#1e90ff" stroke-width="0.05">Cm.Qal2</text>
<text transform="translate(402.35 417.7) rotate(-90) scale(0.88 1)" font-size="7.6" font-weight="bold" fill="#1e90ff" stroke="#1e90ff" stroke-width="0.05">Cm.Qal3</text>
<text transform="translate(410.36 417.7) rotate(-90) scale(0.88 1)" font-size="7.6" font-weight="bold" fill="#1e90ff" stroke="#1e90ff" stroke-width="0.05">Cm.Qal4</text>
<text transform="translate(418.37 417.7) rotate(-90) scale(0.88 1)" font-size="7.6" font-weight="bold" fill="#646464" stroke="#646464" stroke-width="0.05">Cm.Zak3</text>
<text transform="translate(426.38 417.7) rotate(-90) scale(0.88 1)" font-size="7.6" font-weight="bold" fill="#646464" stroke="#646464" stroke-width="0.05">Cm.Zak1</text>
<text transform="translate(434.39 417.7) rotate(-90) scale(0.88 1)" font-size="7.6" font-weight="bold" fill="#646464" stroke="#646464" stroke-width="0.05">Cm.Zak2</text>
<text transform="translate(442.4 417.7) rotate(-90) scale(0.88 1)" font-size="7.6" font-weight="bold" fill="#646464" stroke="#646464" stroke-width="0.05">Cm.Zak4</text>
<text transform="translate(450.41 417.7) rotate(-90) scale(0.88 1)" font-size="7.6" font-weight="bold" fill="#a0644a" stroke="#a0644a" stroke-width="0.05">Cm.Dah3</text>
<text transform="translate(458.42 417.7) rotate(-90) scale(0.88 1)" font-size="7.6" font-weight="bold" fill="#dc82e6" stroke="#dc82e6" stroke-width="0.05">Cm.Duh4</text>
<text transform="translate(466.43 417.7) rotate(-90) scale(0.88 1)" font-size="7.6" font-weight="bold" fill="#a0644a" stroke="#a0644a" stroke-width="0.05">Cm.Dah4</text>
<text transform="translate(474.44 417.7) rotate(-90) scale(0.88 1)" font-size="7.6" font-weight="bold" fill="#e61414" stroke="#e61414" stroke-width="0.05">Cm.Akr1</text>
<text transform="translate(482.45 417.7) rotate(-90) scale(0.88 1)" font-size="7.6" font-weight="bold" fill="#e61414" stroke="#e61414" stroke-width="0.05">Cm.Akr2</text>
<text transform="translate(490.46 417.7) rotate(-90) scale(0.88 1)" font-size="7.6" font-weight="bold" fill="#e61414" stroke="#e61414" stroke-width="0.05">Cm.Akr3</text>
<text transform="translate(498.47 417.7) rotate(-90) scale(0.88 1)" font-size="7.6" font-weight="bold" fill="#dc82e6" stroke="#dc82e6" stroke-width="0.05">Cm.Duh1</text>
<text transform="translate(506.48 417.7) rotate(-90) scale(0.88 1)" font-size="7.6" font-weight="bold" fill="#f8bcc8" stroke="#f8bcc8" stroke-width="0.05">Cm.Sul1</text>
<text transform="translate(514.49 417.7) rotate(-90) scale(0.88 1)" font-size="7.6" font-weight="bold" fill="#f8bcc8" stroke="#f8bcc8" stroke-width="0.05">Cm.Sul2</text>
<text transform="translate(522.5 417.7) rotate(-90) scale(0.88 1)" font-size="7.6" font-weight="bold" fill="#f8bcc8" stroke="#f8bcc8" stroke-width="0.05">Cm.Sul3</text>
<text transform="translate(530.51 417.7) rotate(-90) scale(0.88 1)" font-size="7.6" font-weight="bold" fill="#dc82e6" stroke="#dc82e6" stroke-width="0.05">Cm.Duh2</text>
<text transform="translate(538.52 417.7) rotate(-90) scale(0.88 1)" font-size="7.6" font-weight="bold" fill="#dc82e6" stroke="#dc82e6" stroke-width="0.05">Cm.Duh3</text>
<text transform="translate(546.53 417.7) rotate(-90) scale(0.88 1)" font-size="7.6" font-weight="bold" fill="#e61414" stroke="#e61414" stroke-width="0.05">Cm.Akr4</text>
<text transform="translate(554.54 417.7) rotate(-90) scale(0.88 1)" font-size="7.6" font-weight="bold" fill="#202020" stroke="#202020" stroke-width="0.05">Cm.Sul4</text>
<text transform="translate(562.55 417.7) rotate(-90) scale(0.88 1)" font-size="7.6" font-weight="bold" fill="#f000f0" stroke="#f000f0" stroke-width="0.05">Cm.BusB4</text>
<text transform="translate(570.56 417.7) rotate(-90) scale(0.88 1)" font-size="7.6" font-weight="bold" fill="#f5dc3c" stroke="#f5dc3c" stroke-width="0.05">Cm.Mus3</text>
<text transform="translate(578.57 417.7) rotate(-90) scale(0.88 1)" font-size="7.6" font-weight="bold" fill="#f5dc3c" stroke="#f5dc3c" stroke-width="0.05">Cm.Mus4</text>
<text transform="translate(586.58 417.7) rotate(-90) scale(0.88 1)" font-size="7.6" font-weight="bold" fill="#a0644a" stroke="#a0644a" stroke-width="0.05">Cm.Dah1</text>
<text transform="translate(594.59 417.7) rotate(-90) scale(0.88 1)" font-size="7.6" font-weight="bold" fill="#a0644a" stroke="#a0644a" stroke-width="0.05">Cm.Dah2</text>
<text transform="translate(602.6 417.7) rotate(-90) scale(0.88 1)" font-size="7.6" font-weight="bold" fill="#f5dc3c" stroke="#f5dc3c" stroke-width="0.05">Cm.Mus1</text>
<text transform="translate(610.61 417.7) rotate(-90) scale(0.88 1)" font-size="7.6" font-weight="bold" fill="#f5dc3c" stroke="#f5dc3c" stroke-width="0.05">Cm.Mus2</text>
<text transform="translate(618.62 417.7) rotate(-90) scale(0.88 1)" font-size="7.6" font-weight="bold" fill="#aa5adc" stroke="#aa5adc" stroke-width="0.05">Cm.Sha4</text>
<text transform="translate(626.63 417.7) rotate(-90) scale(0.88 1)" font-size="7.6" font-weight="bold" fill="#f5966e" stroke="#f5966e" stroke-width="0.05">Cm.Bok3</text>
<text transform="translate(634.64 417.7) rotate(-90) scale(0.88 1)" font-size="7.6" font-weight="bold" fill="#f000f0" stroke="#f000f0" stroke-width="0.05">Cm.BusB1</text>
<text transform="translate(642.65 417.7) rotate(-90) scale(0.88 1)" font-size="7.6" font-weight="bold" fill="#f000f0" stroke="#f000f0" stroke-width="0.05">Cm.BusB2</text>
<text transform="translate(650.67 417.7) rotate(-90) scale(0.88 1)" font-size="7.6" font-weight="bold" fill="#f000f0" stroke="#f000f0" stroke-width="0.05">Cm.BusB3</text>
<text transform="translate(658.68 417.7) rotate(-90) scale(0.88 1)" font-size="7.6" font-weight="bold" fill="#3c3ce6" stroke="#3c3ce6" stroke-width="0.05">Cm.Hal2</text>
<text transform="translate(666.69 417.7) rotate(-90) scale(0.88 1)" font-size="7.6" font-weight="bold" fill="#aa2828" stroke="#aa2828" stroke-width="0.05">Cm.Har3</text>
<text transform="translate(674.7 417.7) rotate(-90) scale(0.88 1)" font-size="7.6" font-weight="bold" fill="#3c3ce6" stroke="#3c3ce6" stroke-width="0.05">Cm.Hal1</text>
<path d="M31.5 688.4H674" stroke="#333" stroke-width="1.3"/>
</svg>
</body></html>
